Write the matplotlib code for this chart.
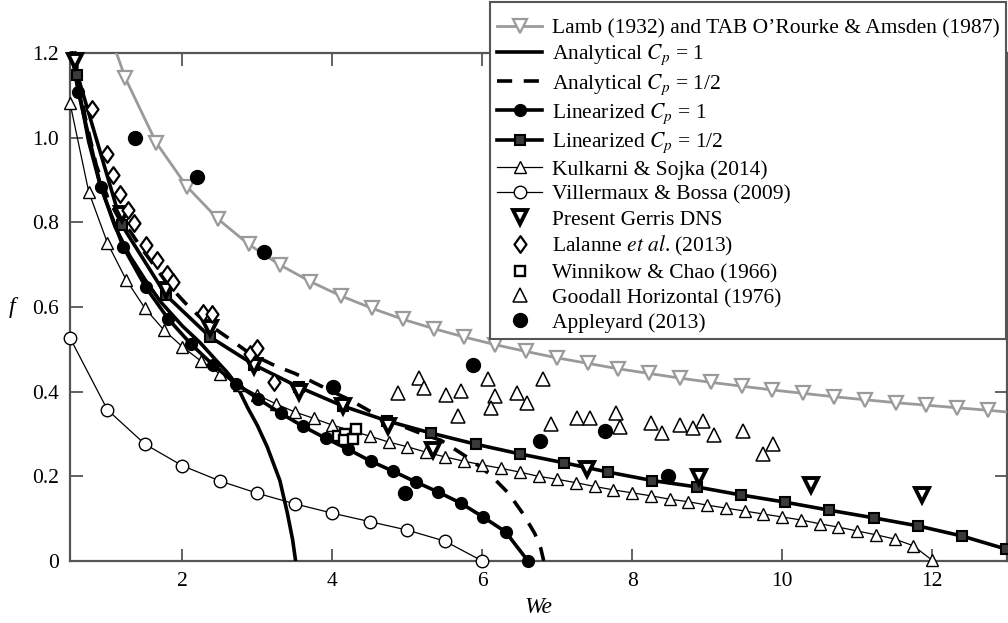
import matplotlib
matplotlib.use("Agg")
import matplotlib.pyplot as plt
from matplotlib.path import Path

plt.rcParams['font.family'] = ['Liberation Serif', 'DejaVu Serif']
plt.rcParams['mathtext.fontset'] = 'stix'
plt.rcParams['font.size'] = 15

# ---------------- data ----------------
lamb_we = [1.12, 1.24, 1.651, 2.062, 2.473, 2.884, 3.295, 3.706, 4.117, 4.528, 4.939,
           5.35, 5.761, 6.172, 6.583, 6.994, 7.405, 7.816, 8.227, 8.638, 9.049,
           9.46, 9.871, 10.282, 10.693, 11.104, 11.515, 11.926, 12.337, 12.748, 13.0]
lamb_f = [1.200, 1.140, 0.988, 0.884, 0.808, 0.748, 0.700, 0.660, 0.626, 0.597, 0.571,
          0.549, 0.529, 0.511, 0.495, 0.480, 0.467, 0.454, 0.443, 0.432, 0.422,
          0.413, 0.404, 0.396, 0.388, 0.381, 0.374, 0.368, 0.362, 0.356, 0.352]

an1_we = [0.53, 0.6, 0.75, 0.9, 1.1, 1.3, 1.5, 1.71, 2.0, 2.24, 2.47, 2.6, 2.71,
          2.87, 3.0, 3.13, 3.3, 3.4, 3.47, 3.51]
an1_f = [1.2, 1.13, 0.99, 0.89, 0.79, 0.72, 0.665, 0.612, 0.555, 0.515, 0.47, 0.445,
         0.42, 0.362, 0.32, 0.27, 0.19, 0.113, 0.05, 0.0]

an2_we = [0.56, 0.7, 0.85, 1.0, 1.15, 1.31, 1.44, 1.57, 1.8, 2.04, 2.3, 2.61, 2.9,
          3.24, 3.5, 3.68, 4.0, 4.24, 4.51, 4.91, 5.2, 5.45, 5.8, 6.1, 6.35, 6.55,
          6.7, 6.78, 6.82, 6.95]
an2_f = [1.2, 1.05, 0.935, 0.86, 0.81, 0.777, 0.742, 0.711, 0.655, 0.609, 0.565,
         0.527, 0.49, 0.461, 0.443, 0.428, 0.4, 0.38, 0.353, 0.32, 0.3, 0.285,
         0.245, 0.205, 0.16, 0.11, 0.065, 0.03, 0.0, 0.0]

lin1_we = [0.52, 0.61, 0.91, 1.21, 1.51, 1.81, 2.11, 2.41, 2.71, 3.01, 3.31, 3.61,
           3.91, 4.21, 4.51, 4.81, 5.11, 5.41, 5.71, 6.01, 6.31, 6.61]
lin1_f = [1.20, 1.108, 0.884, 0.742, 0.647, 0.572, 0.513, 0.463, 0.419, 0.383, 0.349,
          0.318, 0.29, 0.264, 0.236, 0.212, 0.187, 0.163, 0.137, 0.104, 0.069, 0.0]

lin2_we = [0.565, 0.6, 1.19, 1.78, 2.37, 2.96, 3.55, 4.14, 4.73, 5.32, 5.91, 6.5,
           7.09, 7.68, 8.27, 8.86, 9.45, 10.04, 10.63, 11.22, 11.81, 12.4, 12.99]
lin2_f = [1.2, 1.148, 0.794, 0.628, 0.529, 0.463, 0.411, 0.366, 0.331, 0.302, 0.276,
          0.253, 0.232, 0.21, 0.19, 0.175, 0.156, 0.139, 0.12, 0.102, 0.083, 0.059, 0.028]

kul_we = [0.5, 0.75, 1.0, 1.25, 1.5, 1.75, 2.0, 2.25, 2.5, 2.75, 3.0, 3.25, 3.5, 3.75,
          4.0, 4.25, 4.5, 4.75, 5.0, 5.25, 5.5, 5.75, 6.0, 6.25, 6.5, 6.75, 7.0, 7.25,
          7.5, 7.75, 8.0, 8.25, 8.5, 8.75, 9.0, 9.25, 9.5, 9.75, 10.0, 10.25, 10.5,
          10.75, 11.0, 11.25, 11.5, 11.75, 12.0]
kul_f = [1.082, 0.872, 0.751, 0.664, 0.597, 0.546, 0.506, 0.472, 0.442, 0.416, 0.392,
         0.371, 0.352, 0.337, 0.321, 0.308, 0.295, 0.281, 0.27, 0.257, 0.246, 0.236,
         0.227, 0.219, 0.21, 0.2, 0.193, 0.185, 0.176, 0.168, 0.161, 0.154, 0.146,
         0.14, 0.132, 0.125, 0.118, 0.111, 0.104, 0.097, 0.088, 0.08, 0.071, 0.062,
         0.052, 0.036, 0.002]

vil_we = [0.5, 1.0, 1.5, 2.0, 2.5, 3.0, 3.5, 4.0, 4.5, 5.0, 5.5, 6.0]
vil_f = [0.527, 0.357, 0.276, 0.225, 0.189, 0.16, 0.135, 0.113, 0.093, 0.073, 0.047, 0.0]

gerris_we = [0.57, 1.19, 1.78, 2.37, 2.96, 3.56, 4.14, 4.74, 5.34, 7.4, 8.89, 10.39, 11.87]
gerris_f = [1.18, 0.82, 0.64, 0.55, 0.46, 0.40, 0.365, 0.32, 0.262, 0.217, 0.199, 0.18, 0.155]

lal_we = [0.8, 0.99, 1.08, 1.17, 1.27, 1.36, 1.52, 1.66, 1.79, 1.88, 2.27, 2.4, 2.9,
          3.0, 3.22]
lal_f = [1.068, 0.962, 0.912, 0.867, 0.829, 0.799, 0.746, 0.711, 0.678, 0.66, 0.586,
         0.584, 0.49, 0.502, 0.423]

win_we = [4.08, 4.17, 4.15, 4.27, 4.31]
win_f = [0.295, 0.301, 0.287, 0.288, 0.312]

good_we = [4.87, 5.15, 5.22, 5.52, 5.71, 5.68, 6.07, 6.17, 6.12, 6.46, 6.59, 6.81,
           6.92, 7.27, 7.44, 7.79, 7.84, 8.25, 8.4, 8.64, 8.81, 8.95, 9.09, 9.48,
           9.75, 9.88]
good_f = [0.397, 0.433, 0.408, 0.393, 0.401, 0.342, 0.429, 0.389, 0.361, 0.397, 0.374,
          0.431, 0.324, 0.337, 0.338, 0.349, 0.317, 0.327, 0.302, 0.321, 0.315, 0.331,
          0.298, 0.307, 0.253, 0.276]

app_we = [1.37, 2.19, 3.09, 4.01, 4.97, 5.88, 6.77, 7.64, 8.48]
app_f = [1.0, 0.907, 0.73, 0.411, 0.16, 0.463, 0.283, 0.307, 0.201]

x_ticks = [2, 4, 6, 8, 10, 12]
y_ticks = [0, 0.2, 0.4, 0.6, 0.8, 1.0, 1.2]
y_ticklabels = ['0', '0.2', '0.4', '0.6', '0.8', '1.0', '1.2']

# ---------------- figure ----------------
fig = plt.figure(figsize=(10.08, 6.23), dpi=100)
ax = fig.add_axes([70 / 1008, 1 - 561 / 623, 937 / 1008, (561 - 53) / 623])

diamond = Path([(0, 1), (0.72, 0), (0, -1), (-0.72, 0), (0, 1)],
               [Path.MOVETO, Path.LINETO, Path.LINETO, Path.LINETO, Path.CLOSEPOLY])

gray = '#9a9a9a'
ax.plot(lamb_we, lamb_f, color=gray, lw=2, marker='v', ms=10, mfc='white', mec=gray,
        mew=1.6, markevery=slice(1, len(lamb_we) - 1),
        label="Lamb (1932) and TAB O\u2019Rourke & Amsden (1987)", zorder=3)
ax.plot(an1_we, an1_f, color='black', lw=2.6, label=r'Analytical $C_p$ = 1', zorder=4)
ax.plot(an2_we, an2_f, color='black', lw=2.6, linestyle=(0, (4.2, 3.2)),
        label=r'Analytical $C_p$ = 1/2', zorder=4)
ax.plot(lin1_we, lin1_f, color='black', lw=2.6, marker='o', ms=8.5,
        markevery=slice(1, None), label=r'Linearized $C_p$ = 1', zorder=5, clip_on=False)
ax.plot(lin2_we, lin2_f, color='black', lw=2.6, marker='s', ms=7.5, mfc='#3a3a3a',
        mec='black', mew=1.5, markevery=slice(1, None),
        label=r'Linearized $C_p$ = 1/2', zorder=5, clip_on=False)
ax.plot(kul_we, kul_f, color='black', lw=0.9, marker='^', ms=9, mfc='white', mec='black',
        mew=1.0, label='Kulkarni & Sojka (2014)', zorder=4, clip_on=False)
ax.plot(vil_we, vil_f, color='black', lw=0.9, marker='o', ms=9, mfc='white', mec='black',
        mew=1.0, label='Villermaux & Bossa (2009)', zorder=4, clip_on=False)
ax.plot(gerris_we, gerris_f, linestyle='none', marker='v', ms=9.5, mfc='white',
        mec='black', mew=2.8, label='Present Gerris DNS', zorder=6, clip_on=False)
ax.plot(lal_we, lal_f, linestyle='none', marker=diamond, ms=12, mfc='white', mec='black',
        mew=1.6, label=r'Lalanne $\mathit{et\ al}$. (2013)', zorder=6, clip_on=False)
ax.plot(win_we, win_f, linestyle='none', marker='s', ms=7, mfc='white', mec='black',
        mew=1.7, label='Winnikow & Chao (1966)', zorder=6)
ax.plot(good_we, good_f, linestyle='none', marker='^', ms=10, mfc='white', mec='black',
        mew=1.1, label='Goodall Horizontal (1976)', zorder=6)
ax.plot(app_we, app_f, linestyle='none', marker='o', ms=10, color='black',
        label='Appleyard (2013)', zorder=6)

ax.set_xlim(0.5, 13)
ax.set_ylim(0, 1.2)
ax.set_xticks(x_ticks)
ax.set_yticks(y_ticks)
ax.set_yticklabels(y_ticklabels)
ax.tick_params(direction='in', length=9, width=1.3, top=True, right=True,
               labelsize=15.5, color='#555555', pad=8)
for s in ax.spines.values():
    s.set_color('#555555')
    s.set_linewidth(1.6)

ax.set_xlabel('We', fontsize=17, style='italic', labelpad=4)
ax.set_ylabel('f', fontsize=17, style='italic', rotation=0, labelpad=14, va='center')

leg = ax.legend(loc='upper right', bbox_to_anchor=(1006 / 1008, 1 - 2 / 623),
                bbox_transform=fig.transFigure, fontsize=15.5, frameon=True,
                fancybox=False, framealpha=1, edgecolor='#555555', handlelength=2.1,
                handletextpad=0.45, labelspacing=0.22, borderpad=0.3, borderaxespad=0,
                title=' ', title_fontsize=5)
leg.get_frame().set_linewidth(1.5)
leg.set_zorder(10)

fig.savefig('out.png', dpi=100)
